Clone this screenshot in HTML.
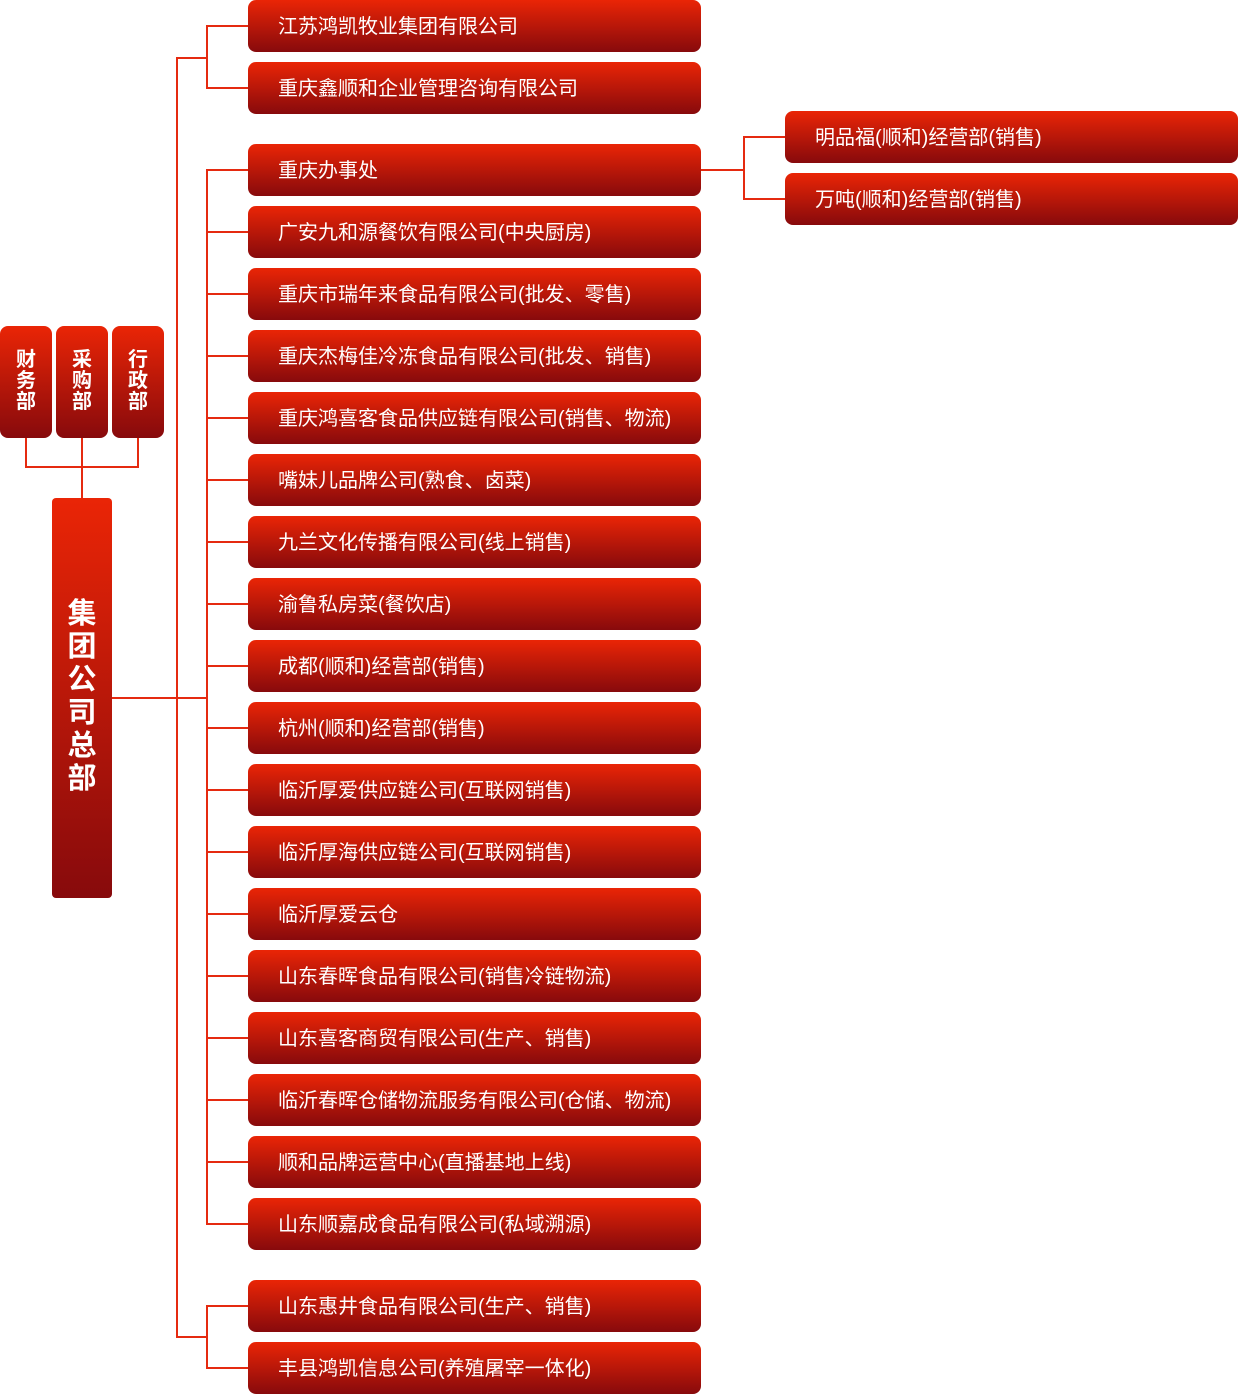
<!DOCTYPE html><html><head><meta charset="utf-8"><style>
body{margin:0;width:1238px;height:1394px;position:relative;background:#fff;font-family:"Liberation Sans","Noto Sans CJK SC",sans-serif;overflow:hidden}
.b{position:absolute;background:linear-gradient(#ea2506,#870a0c);border-radius:8px;color:#fff;box-sizing:border-box}
.r{left:248px;width:453px;height:52px;font-size:20px;line-height:54px;padding-left:30px}
.rr{left:785px;width:453px;height:52px;font-size:20px;line-height:54px;padding-left:30px}
.s{top:326px;width:52px;height:112px;font-size:20px;line-height:21px;text-align:center;padding-top:24px;font-weight:bold}
.l{position:absolute;background:#e52a10}
</style></head><body>
<div class="b s" style="left:0">财<br>务<br>部</div>
<div class="b s" style="left:56px">采<br>购<br>部</div>
<div class="b s" style="left:112px">行<br>政<br>部</div>
<div class="b" style="left:52px;top:498px;width:60px;height:400px;border-radius:4px;font-size:29px;line-height:33px;text-align:center;padding-top:100px;font-weight:bold">集<br>团<br>公<br>司<br>总<br>部</div>
<div class="l" style="left:25px;top:438px;width:2px;height:30px"></div>
<div class="l" style="left:137px;top:438px;width:2px;height:30px"></div>
<div class="l" style="left:81px;top:438px;width:2px;height:60px"></div>
<div class="l" style="left:25px;top:466px;width:114px;height:2px"></div>
<div class="l" style="left:112px;top:697px;width:95px;height:2px"></div>
<div class="l" style="left:176px;top:58px;width:2px;height:1280px"></div>
<div class="l" style="left:176px;top:57px;width:31px;height:2px"></div>
<div class="l" style="left:176px;top:1336px;width:31px;height:2px"></div>
<div class="l" style="left:206px;top:25px;width:2px;height:64px"></div>
<div class="l" style="left:206px;top:169px;width:2px;height:1056px"></div>
<div class="l" style="left:206px;top:1305px;width:2px;height:64px"></div>
<div class="l" style="left:701px;top:169px;width:44px;height:2px"></div>
<div class="l" style="left:743px;top:136px;width:2px;height:64px"></div>
<div class="l" style="left:743px;top:136px;width:42px;height:2px"></div>
<div class="l" style="left:743px;top:198px;width:42px;height:2px"></div>
<div id="c"></div>
<div class="b rr" style="top:111px">明品福(顺和)经营部(销售)</div>
<div class="b rr" style="top:173px">万吨(顺和)经营部(销售)</div>
<script>
var t=[[0,"江苏鸿凯牧业集团有限公司"],[62,"重庆鑫顺和企业管理咨询有限公司"]];
var g=["重庆办事处","广安九和源餐饮有限公司(中央厨房)","重庆市瑞年来食品有限公司(批发、零售)","重庆杰梅佳冷冻食品有限公司(批发、销售)","重庆鸿喜客食品供应链有限公司(销售、物流)","嘴妹儿品牌公司(熟食、卤菜)","九兰文化传播有限公司(线上销售)","渝鲁私房菜(餐饮店)","成都(顺和)经营部(销售)","杭州(顺和)经营部(销售)","临沂厚爱供应链公司(互联网销售)","临沂厚海供应链公司(互联网销售)","临沂厚爱云仓","山东春晖食品有限公司(销售冷链物流)","山东喜客商贸有限公司(生产、销售)","临沂春晖仓储物流服务有限公司(仓储、物流)","顺和品牌运营中心(直播基地上线)","山东顺嘉成食品有限公司(私域溯源)"];
g.forEach(function(s,i){t.push([144+62*i,s])});
t.push([1280,"山东惠井食品有限公司(生产、销售)"],[1342,"丰县鸿凯信息公司(养殖屠宰一体化)"]);
var h="";t.forEach(function(a){h+='<div class="l" style="left:206px;top:'+(a[0]+25)+'px;width:42px;height:2px"></div><div class="b r" style="top:'+a[0]+'px">'+a[1]+'</div>'});
document.getElementById("c").innerHTML=h;
</script>
</body></html>
